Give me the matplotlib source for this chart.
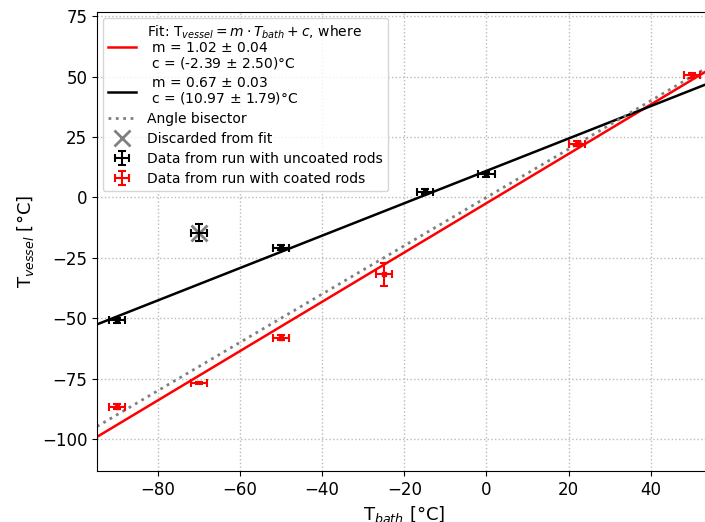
import numpy as np
import matplotlib.pyplot as plt

# data
unc_x = [-90, -50, -15, 0]
unc_y = [-50.8, -20.8, 2.4, 9.5]
unc_xerr = [2, 2, 2, 2]
unc_yerr = [1, 1, 1, 1]

disc_x = [-70]
disc_y = [-14.6]
disc_xerr = [2]
disc_yerr = [3.5]

coat_x = [-90, -50, -25, 22, 50]
coat_y = [-86.6, -58.1, -31.9, 22.2, 50.6]
coat_xerr = [2, 2, 2, 2, 2]
coat_yerr = [1, 1, 4.8, 1, 1]

# coated point drawn without a marker
coat2_x = [-70]
coat2_y = [-76.7]

m_coat, c_coat = 1.02, -2.39
m_unc, c_unc = 0.67, 10.97

xlim = (-94.8, 54.9)
ylim = (-113.2, 76.7)

fig = plt.figure(figsize=(7.05, 5.22), dpi=100)
ax = fig.add_axes([97/705, 51/522, 615/705, 459/522])

xs = np.array(xlim)
ax.plot(xs, m_coat*xs + c_coat, color='red', lw=1.8, zorder=2,
        label='Fit: T$_{vessel} = m \\cdot T_{bath} + c$, where\n m = 1.02 $\\pm$ 0.04\n c = (-2.39 $\\pm$ 2.50)°C')
ax.plot(xs, m_unc*xs + c_unc, color='black', lw=1.8, zorder=2,
        label=' m = 0.67 $\\pm$ 0.03\n c = (10.97 $\\pm$ 1.79)°C')
ax.plot(xs, xs, color='grey', ls=':', lw=2, zorder=2, label='Angle bisector')
ax.plot(disc_x, disc_y, 'x', color='grey', ms=11, mew=2, zorder=3, label='Discarded from fit')

eb = dict(elinewidth=1.5, capsize=3, capthick=1.5, zorder=4)
ax.errorbar(unc_x, unc_y, xerr=unc_xerr, yerr=unc_yerr, fmt='none', ecolor='black',
            label='Data from run with uncoated rods', **eb)
ax.plot(unc_x, unc_y, 's', ms=3, color='black', zorder=5)
ax.errorbar(disc_x, disc_y, xerr=disc_xerr, yerr=disc_yerr, fmt='none', ecolor='black', **eb)
ax.errorbar(coat_x, coat_y, xerr=coat_xerr, yerr=coat_yerr, fmt='none', ecolor='red',
            label='Data from run with coated rods', **eb)
ax.plot(coat_x, coat_y, 's', ms=3, color='red', zorder=5)
ax.errorbar(coat2_x, coat2_y, xerr=[2], yerr=[0.5], fmt='none', ecolor='red', **eb)

ax.set_xlim(*xlim)
ax.set_ylim(*ylim)
ax.set_xticks([-80, -60, -40, -20, 0, 20, 40])
ax.set_yticks([-100, -75, -50, -25, 0, 25, 50, 75])
ax.tick_params(labelsize=12)
ax.grid(True, ls=':', color='#bbbbbb', lw=1)
ax.set_axisbelow(True)
ax.set_xlabel('T$_{bath}$ [°C]', fontsize=13)
ax.set_ylabel('T$_{vessel}$ [°C]', fontsize=13)

leg = ax.legend(loc='upper left', fontsize=10, framealpha=0.8, borderaxespad=0.4,
                labelspacing=0.42)
for t in leg.get_texts():
    t.set_linespacing(1.0)

fig.savefig('out.png', dpi=100)
